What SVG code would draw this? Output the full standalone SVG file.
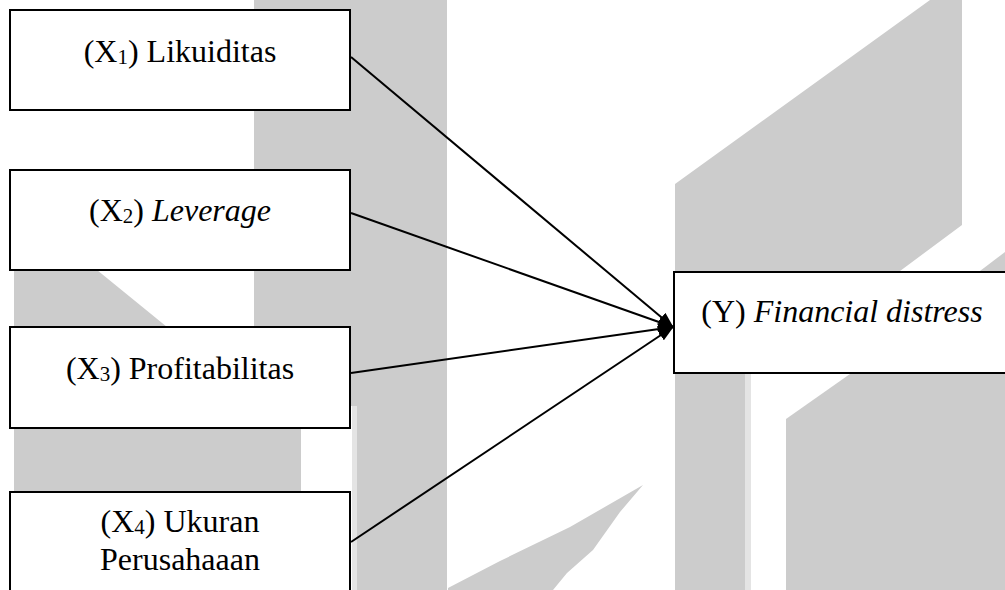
<svg xmlns="http://www.w3.org/2000/svg" width="1005" height="590" viewBox="0 0 1005 590">
  <style>
    .wm { fill: #cccccc; stroke: none; }
    .wm-light { fill: #e4e4e4; stroke: none; }
    .box { fill: #ffffff; stroke: #000000; stroke-width: 2; }
    .lbl { font-family: "Liberation Serif", "Times New Roman", "DejaVu Serif", serif; font-size: 32px; fill: #000000; text-anchor: middle; }
    .sub { font-size: 21px; }
    .it { font-style: italic; }
    .conn { stroke: #000000; stroke-width: 2; fill: none; marker-end: url(#arrow); }
  </style>
  <defs>
    <marker id="arrow" markerUnits="userSpaceOnUse" markerWidth="16" markerHeight="12" refX="15" refY="6" orient="auto">
      <path d="M0,0 L16,6 L0,12 z" fill="#000000"/>
    </marker>
  </defs>
  <rect x="0" y="0" width="1005" height="590" fill="#ffffff"/>
  <g id="watermark">
    <rect class="wm" x="254" y="0" width="193" height="406"/>
    <rect class="wm" x="254" y="406" width="47" height="90"/>
    <rect class="wm-light" x="352" y="406" width="5" height="184"/>
    <rect class="wm" x="357" y="406" width="90" height="184"/>
    <polygon class="wm" points="14,270 97,270 167,327 254,327 254,496 14,496"/>
    <polygon class="wm" points="675,184 930,0 962,0 962,225 896,274 745,274 745,590 675,590"/>
    <rect class="wm-light" x="745" y="374" width="6" height="216"/>
    <polygon class="wm" points="786,590 786,419 850,374 1005,268 1005,590"/>
    <polygon class="wm" points="976,274 1005,252 1005,274"/>
    <polygon class="wm" points="448,588 500,561 570,527 643,485 620,512 593,550 567,573 553,590 448,590"/>
  </g>
  <g id="node-x1">
    <rect class="box" x="10" y="10" width="340" height="100"/>
    <text class="lbl" x="180" y="62">(X<tspan class="sub" dy="2">1</tspan><tspan dy="-2">) Likuiditas</tspan></text>
  </g>
  <g id="node-x2">
    <rect class="box" x="10" y="170" width="340" height="100"/>
    <text class="lbl" x="180" y="221">(X<tspan class="sub" dy="2">2</tspan><tspan dy="-2">) </tspan><tspan class="it">Leverage</tspan></text>
  </g>
  <g id="node-x3">
    <rect class="box" x="10" y="327" width="340" height="101"/>
    <text class="lbl" x="180" y="379">(X<tspan class="sub" dy="2">3</tspan><tspan dy="-2">) Profitabilitas</tspan></text>
  </g>
  <g id="node-x4">
    <rect class="box" x="10" y="492" width="340" height="110"/>
    <text class="lbl" x="180" y="532">(X<tspan class="sub" dy="2">4</tspan><tspan dy="-2">) Ukuran</tspan></text>
    <text class="lbl" x="180" y="570">Perusahaaan</text>
  </g>
  <g id="node-y">
    <rect class="box" x="674" y="272" width="340" height="101"/>
    <text class="lbl" x="842" y="322">(Y) <tspan class="it">Financial distress</tspan></text>
  </g>
  <g id="connectors">
    <line class="conn" x1="351" y1="57" x2="673" y2="327"/>
    <line class="conn" x1="351" y1="213" x2="673" y2="327"/>
    <line class="conn" x1="351" y1="373" x2="673" y2="327"/>
    <line class="conn" x1="351" y1="542" x2="673" y2="327"/>
  </g>
</svg>
